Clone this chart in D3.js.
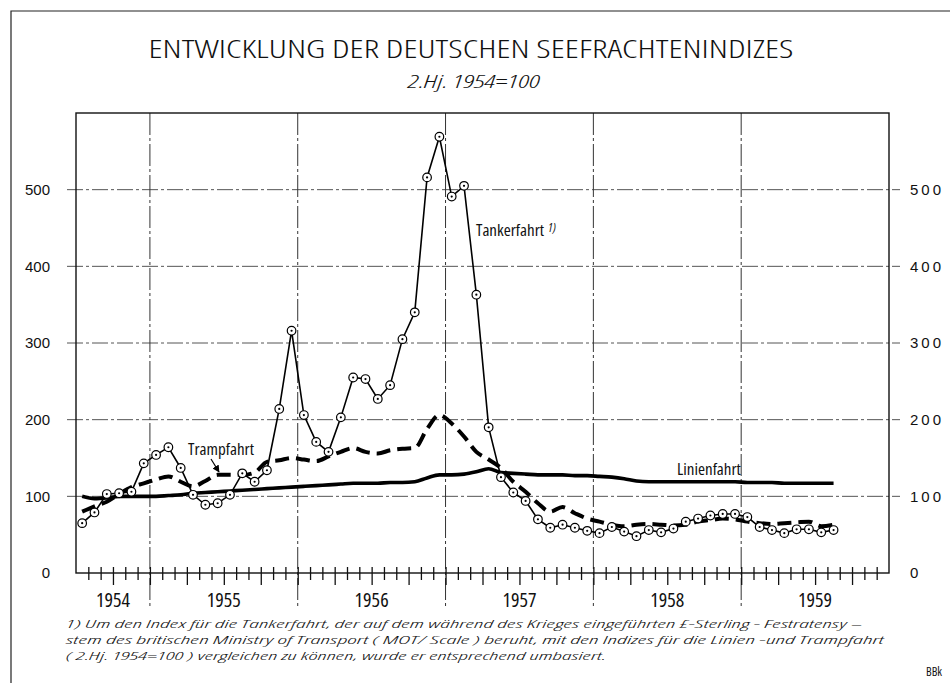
<!DOCTYPE html>
<html>
<head>
<meta charset="utf-8">
<script src="https://cdn.jsdelivr.net/npm/d3@7"></script>
<style>
    body { margin: 0; background: #fff; }
    svg { display: block; font-family: "Open Sans", "DejaVu Sans"; font-stretch: 75%; }
</style>
</head>
<body>
<svg width="950" height="683"></svg>
<script>
// first month shown = July 1954 (index 0), data run to August 1959
let startYear = 1954;
let startMonth = 7;
let monthsShown = 66;

let yearLabels = ["1954", "1955", "1956", "1957", "1958", "1959"];
let yTicks = [0, 100, 200, 300, 400, 500];

// Tankerfahrt (monthly, 2.Hj. 1954 = 100)
let tanker = [65, 79, 103, 104, 106, 143, 154, 164, 137, 102, 89, 91,
    102, 130, 119, 134, 214, 316, 206, 171, 158, 203, 255, 253,
    227, 245, 305, 340, 516, 569, 491, 505, 363, 190, 125, 105,
    94, 70, 59, 63, 59, 55, 52, 60, 54, 48, 56, 53,
    58, 67, 71, 75, 77, 77, 73, 60, 56, 52, 57, 57,
    53, 56];

// Trampfahrt
let tramp = [80, 87, 93, 103, 112, 117, 122, 126, 119, 113, 120, 128,
    128, 128, 131, 145, 147, 150, 148, 146, 152, 158, 163, 158,
    156, 160, 162, 163, 188, 206, 195, 178, 158, 148, 137, 119,
    106, 91, 80, 86, 78, 71, 67, 63, 61, 63, 64, 63,
    62, 63, 67, 69, 71, 70, 67, 65, 64, 65, 66, 67,
    61, 63];

// Linienfahrt
let linien = [100, 97, 98, 100, 100, 100, 100, 101, 102, 104, 105, 106,
    107, 108, 109, 110, 111, 112, 113, 114, 115, 116, 117, 117,
    117, 118, 118, 119, 124, 128, 128, 129, 132, 136, 131, 130,
    129, 128, 128, 128, 127, 127, 126, 125, 123, 120, 119, 119,
    119, 119, 119, 119, 119, 119, 118, 118, 118, 117, 117, 117,
    117, 117];

let svg = d3.select("svg");

let pLeft = 76, pRight = 889, pTop = 113, pBottom = 573;

let x = d3.scaleLinear().domain([0, monthsShown]).range([pLeft, pRight]);
let y = d3.scaleLinear().domain([0, 600]).range([pBottom, pTop]);

// page frame
svg.append("path")
    .attr("d", "M11,683 L11,11 L950,11")
    .attr("fill", "none")
    .attr("stroke", "#222")
    .attr("stroke-width", 1.2);

// title
svg.append("text")
    .attr("x", 471)
    .attr("y", 58)
    .attr("text-anchor", "middle")
    .attr("font-size", 26)
    .attr("font-weight", 300)
    .attr("textLength", 645)
    .attr("lengthAdjust", "spacingAndGlyphs")
    .attr("fill", "#111")
    .text("ENTWICKLUNG DER DEUTSCHEN SEEFRACHTENINDIZES");

svg.append("text")
    .attr("x", 474)
    .attr("y", 88)
    .attr("text-anchor", "middle")
    .attr("font-size", 19)
    .attr("font-weight", 300)
    .attr("font-style", "italic")
    .attr("textLength", 132)
    .attr("lengthAdjust", "spacingAndGlyphs")
    .attr("fill", "#111")
    .text("2.Hj. 1954=100");

// horizontal grid
svg.append("g")
    .selectAll("line")
    .data(yTicks.filter(d => d > 0))
    .enter()
    .append("line")
    .attr("x1", pLeft - 9)
    .attr("x2", pRight + 11)
    .attr("y1", d => y(d))
    .attr("y2", d => y(d))
    .attr("stroke", "#555")
    .attr("stroke-width", 1)
    .attr("stroke-dasharray", "16,3,3,3");

// vertical year lines
let yearBounds = d3.range(1, yearLabels.length).map(i => i * 12 + (13 - startMonth) - 12);
svg.append("g")
    .selectAll("line")
    .data(yearBounds)
    .enter()
    .append("line")
    .attr("x1", d => x(d))
    .attr("x2", d => x(d))
    .attr("y1", pTop)
    .attr("y2", pBottom + 34)
    .attr("stroke", "#333")
    .attr("stroke-width", 1)
    .attr("stroke-dasharray", "22,3,3,3");

// plot box
svg.append("rect")
    .attr("x", pLeft)
    .attr("y", pTop)
    .attr("width", pRight - pLeft)
    .attr("height", pBottom - pTop)
    .attr("fill", "none")
    .attr("stroke", "#111")
    .attr("stroke-width", 1.4);

// month ticks
let xAxis = d3.axisBottom(x)
    .tickValues(d3.range(1, monthsShown))
    .tickSize(7)
    .tickFormat("");
let gx = svg.append("g")
    .attr("transform", `translate(0,${pBottom})`)
    .call(xAxis);
gx.select(".domain").remove();
gx.selectAll(".tick line")
    .attr("y1", -6)
    .attr("y2", d => ((d + startMonth - 1) % 3 === 0) ? 12 : 7)
    .attr("stroke", "#111")
    .attr("stroke-width", 1.3);

// year labels
svg.append("g")
    .selectAll("text")
    .data(yearLabels)
    .enter()
    .append("text")
    .attr("x", (d, i) => {
        let a = i === 0 ? 0 : yearBounds[i - 1];
        let b = i < yearBounds.length ? yearBounds[i] : monthsShown;
        return x((a + b) / 2);
    })
    .attr("y", 607)
    .attr("text-anchor", "middle")
    .attr("font-size", 20)
    .attr("fill", "#111")
    .text(d => d);

// y axes labels
let yLeft = d3.axisLeft(y).tickValues(yTicks).tickSize(0).tickPadding(26);
let gl = svg.append("g").attr("transform", `translate(${pLeft},0)`).call(yLeft);
gl.select(".domain").remove();
gl.selectAll("text")
    .attr("font-family", "inherit")
    .attr("font-size", 15)
    .attr("fill", "#111");

let yRight = d3.axisRight(y).tickValues(yTicks).tickSize(0).tickPadding(21);
let gr = svg.append("g").attr("transform", `translate(${pRight},0)`).call(yRight);
gr.select(".domain").remove();
gr.selectAll("text")
    .attr("font-family", "inherit")
    .attr("font-size", 15)
    .attr("letter-spacing", 3)
    .attr("fill", "#111");

// series lines
let lineLinear = d3.line()
    .x((d, i) => x(i + 0.5))
    .y(d => y(d));
let lineSmooth = d3.line()
    .x((d, i) => x(i + 0.5))
    .y(d => y(d))
    .curve(d3.curveMonotoneX);

svg.append("path")
    .datum(linien)
    .attr("d", lineSmooth)
    .attr("fill", "none")
    .attr("stroke", "#000")
    .attr("stroke-width", 3.6);

svg.append("path")
    .datum(tramp)
    .attr("d", lineSmooth)
    .attr("fill", "none")
    .attr("stroke", "#000")
    .attr("stroke-width", 4)
    .attr("stroke-dasharray", "14,7");

svg.append("path")
    .datum(tanker)
    .attr("d", lineLinear)
    .attr("fill", "none")
    .attr("stroke", "#000")
    .attr("stroke-width", 1.6);

let marks = svg.append("g")
    .selectAll("g")
    .data(tanker)
    .enter()
    .append("g")
    .attr("transform", (d, i) => `translate(${x(i + 0.5)},${y(d)})`);
marks.append("circle")
    .attr("r", 4.3)
    .attr("fill", "#fff")
    .attr("stroke", "#000")
    .attr("stroke-width", 1.2);
marks.append("circle")
    .attr("r", 1.1)
    .attr("fill", "#000");

// series labels
let tk = svg.append("text")
    .attr("x", 476)
    .attr("y", 236)
    .attr("font-size", 17)
    .style("font-stretch", "87.5%")
    .attr("fill", "#111");
tk.append("tspan").text("Tankerfahrt");
tk.append("tspan")
    .attr("dx", 4)
    .attr("dy", -4)
    .attr("font-size", 12)
    .attr("font-style", "italic")
    .text("1)");

svg.append("text")
    .attr("x", 188)
    .attr("y", 455)
    .attr("font-size", 17)
    .style("font-stretch", "87.5%")
    .attr("fill", "#111")
    .text("Trampfahrt");

svg.append("defs").append("marker")
    .attr("id", "arr")
    .attr("viewBox", "0 0 10 10")
    .attr("refX", 9)
    .attr("refY", 5)
    .attr("markerWidth", 6)
    .attr("markerHeight", 6)
    .attr("orient", "auto")
    .append("path")
    .attr("d", "M0,0 L10,5 L0,10 z")
    .attr("fill", "#000");

svg.append("line")
    .attr("x1", 211)
    .attr("y1", 459)
    .attr("x2", 219)
    .attr("y2", 472)
    .attr("stroke", "#000")
    .attr("stroke-width", 1.2)
    .attr("marker-end", "url(#arr)");

svg.append("text")
    .attr("x", 677)
    .attr("y", 475)
    .attr("font-size", 17)
    .style("font-stretch", "87.5%")
    .attr("fill", "#111")
    .text("Linienfahrt");

// footnote
let foot = [
    "1) Um den Index für die Tankerfahrt, der auf dem während des Krieges eingeführten £-Sterling - Festratensy –",
    "stem des britischen Ministry of Transport ( MOT/ Scale ) beruht, mit den Indizes für die Linien -und  Trampfahrt",
    "( 2.Hj. 1954=100 ) vergleichen zu können, wurde er entsprechend umbasiert."
];
let footWidth = [796, 818, 540];
svg.append("g")
    .selectAll("text")
    .data(foot)
    .enter()
    .append("text")
    .attr("x", 66)
    .attr("y", (d, i) => 628 + i * 16)
    .attr("font-size", 11.5)
    .attr("font-weight", 300)
    .attr("font-style", "italic")
    .attr("textLength", (d, i) => footWidth[i])
    .attr("lengthAdjust", "spacingAndGlyphs")
    .attr("fill", "#111")
    .text(d => d);

svg.append("text")
    .attr("x", 926)
    .attr("y", 676)
    .attr("font-size", 12)
    .attr("fill", "#111")
    .text("BBk");
</script>
</body>
</html>
